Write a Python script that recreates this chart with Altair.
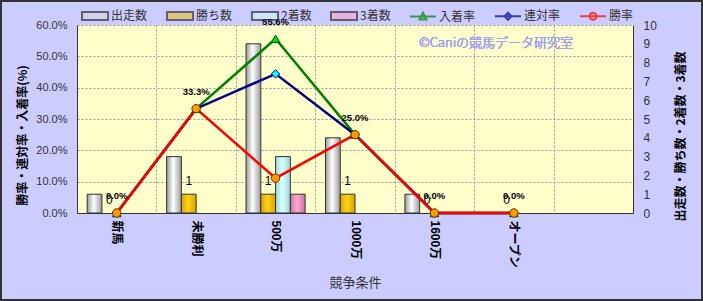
import altair as alt
import pandas as pd

# ---- data ----
categories = ["新馬", "未勝利", "500万", "1000万", "1600万", "オープン"]
x_domain = categories + [""]
runs = [1, 3, 9, 4, 1, 0]
wins = [0, 1, 1, 1, 0, 0]
seconds = [0, 0, 3, 0, 0, 0]
thirds = [0, 0, 1, 0, 0, 0]
place_rate = [0.0, 0.333, 0.556, 0.25, 0.0, 0.0]
quinella_rate = [0.0, 0.333, 0.444, 0.25, 0.0, 0.0]
win_rate = [0.0, 0.333, 0.111, 0.25, 0.0, 0.0]

bar_series = ["出走数", "勝ち数", "2着数", "3着数"]
line_series = ["入着率", "連対率", "勝率"]
legend_order = bar_series + line_series
watermark = "©Caniの競馬データ研究室"

bar_df = pd.DataFrame(
    [{"条件": c, "系列": s, "値": v}
     for s, vals in zip(bar_series, [runs, wins, seconds, thirds])
     for c, v in zip(categories, vals)]
)
rate_df = pd.DataFrame(
    [{"条件": c, "系列": s, "率": v}
     for s, vals in zip(line_series, [place_rate, quinella_rate, win_rate])
     for c, v in zip(categories, vals)]
)
legend_df = pd.DataFrame({"系列": legend_order, "条件": categories[0], "率": -1.0})

FONT = "Liberation Sans, Noto Sans CJK JP"
JFONT = "Noto Sans CJK JP"

x_enc = alt.X(
    "条件:N",
    scale=alt.Scale(domain=x_domain, paddingInner=0, paddingOuter=0),
    sort=x_domain,
    axis=alt.Axis(
        title="競争条件", labelAngle=90, labelFont=FONT, labelFontSize=12,
        labelFontWeight="bold", labelColor="#000000", labelPadding=7,
        ticks=False, tickBand="extent", grid=True, gridDash=[2, 2],
        gridColor="#999999", domainColor="#333333", titleFont=JFONT,
        titleFontSize=13, titleFontWeight="normal", titleColor="#333333",
        titlePadding=8,
    ),
)
xoff_enc = alt.XOffset(
    "系列:N", scale=alt.Scale(domain=bar_series, paddingInner=0, paddingOuter=0.69)
)
y_count = alt.Y(
    "値:Q",
    scale=alt.Scale(domain=[0, 10], nice=False),
    axis=alt.Axis(
        orient="right", values=list(range(11)), grid=False, ticks=False,
        labelPadding=10, labelFont=FONT, labelFontSize=12, labelColor="#333333",
        domainColor="#333333", title="出走数・勝ち数・2着数・3着数",
        titleAngle=270, titleFont=JFONT, titleFontSize=12, titleFontWeight="bold",
        titleColor="#000000", titleY=111, titlePadding=31,
    ),
)
y_rate = alt.Y(
    "率:Q",
    scale=alt.Scale(domain=[0, 0.6], nice=False),
    axis=alt.Axis(
        orient="left", values=[0, 0.1, 0.2, 0.3, 0.4, 0.5, 0.6], format=".1%",
        grid=True, gridDash=[2, 2], gridColor="#999999", ticks=False,
        labelPadding=10, labelFont=FONT, labelFontSize=11, labelColor="#333333",
        domainColor="#333333", title="勝率・連対率・入着率(%)",
        titleFont=JFONT, titleFontSize=12, titleFontWeight="bold",
        titleColor="#000000", titleY=110, titlePadding=6,
    ),
)


def grad(edge, mid):
    return alt.Gradient(
        gradient="linear", x1=0, x2=1, y1=0, y2=0,
        stops=[alt.GradientStop(color=edge, offset=0),
               alt.GradientStop(color=mid, offset=0.45),
               alt.GradientStop(color=edge, offset=1)],
    )


bar_fills = {
    "出走数": grad("#9a9a9a", "#ffffff"),
    "勝ち数": grad("#d9a400", "#ffd21a"),
    "2着数": grad("#9cd6d6", "#dcffff"),
    "3着数": grad("#d0709c", "#ffaad2"),
}

bar_layers = []
for s in bar_series:
    bar_layers.append(
        alt.Chart(bar_df)
        .transform_filter((alt.datum["系列"] == s) & (alt.datum["値"] > 0))
        .mark_bar(fill=bar_fills[s], stroke="#333333", strokeWidth=1)
        .encode(x=x_enc, xOffset=xoff_enc, y=y_count)
    )
count_text = (
    alt.Chart(bar_df).transform_filter(alt.datum["系列"] == "勝ち数")
    .mark_text(font=FONT, fontSize=12, color="#000000", baseline="alphabetic", dy=-9)
    .encode(x=x_enc, xOffset=xoff_enc, y=y_count, text=alt.Text("値:Q"))
)
bars = alt.layer(*bar_layers, count_text)

line_colors = {"入着率": "#008000", "連対率": "#000080", "勝率": "#ff0000"}
marker = {
    "入着率": dict(shape="triangle-up", fill="#00dd00", stroke="#005500", size=75),
    "連対率": dict(shape="diamond", fill="#00ffff", stroke="#000080", size=70),
    "勝率": dict(shape="circle", fill="#ff9900", stroke="#663300", size=70),
}

line_layers = []
for s in line_series:
    line_layers.append(
        alt.Chart(rate_df).transform_filter(alt.datum["系列"] == s)
        .mark_line(color=line_colors[s], strokeWidth=2.5)
        .encode(x=x_enc, y=y_rate)
    )
point_layers = []
for s in line_series:
    m = marker[s]
    point_layers.append(
        alt.Chart(rate_df).transform_filter(alt.datum["系列"] == s)
        .mark_point(shape=m["shape"], filled=True, fill=m["fill"], stroke=m["stroke"],
                    strokeWidth=1, size=m["size"], opacity=1)
        .encode(x=x_enc, y=y_rate)
    )
pct_text = (
    alt.Chart(rate_df).transform_filter(alt.datum["系列"] == "入着率")
    .mark_text(font="Liberation Sans", fontSize=9.5, fontWeight="bold",
               color="#000000", baseline="alphabetic", dy=-14)
    .encode(x=x_enc, y=y_rate, text=alt.Text("率:Q", format=".1%"))
)

# legend symbols (custom paths: bar box, line + marker)
legend_shapes = [
    "M-1.86,-0.57H1.86V0.57H-1.86Z",
    "M-1.86,-0.57H1.86V0.57H-1.86Z",
    "M-1.86,-0.57H1.86V0.57H-1.86Z",
    "M-1.86,-0.57H1.86V0.57H-1.86Z",
    "M-1.86,0H1.86M0,-0.55L0.5,0.4H-0.5Z",
    "M-1.86,0H1.86M0,-0.5L0.5,0L0,0.5L-0.5,0Z",
    "M-1.86,0H1.86M-0.5,0A0.5,0.5,0,1,0,0.5,0A0.5,0.5,0,1,0,-0.5,0Z",
]
legend_fill = ["#d8d8d8", "#f2c200", "#ccffff", "#ff99cc", "#00dd00", "#00ffff", "#ff9900"]
legend_stroke = ["#333333", "#333333", "#333333", "#333333", "#008000", "#000080", "#ff0000"]
leg = alt.Legend(
    orient="none", legendX=10, legendY=-17, direction="horizontal", title=None,
    symbolSize=196, symbolStrokeWidth=2, labelFont=JFONT, labelFontSize=12,
    labelColor="#333333", labelOffset=8, columnPadding=14,
)
legend_layer = (
    alt.Chart(legend_df)
    .mark_point(filled=True, clip=True, size=10)
    .encode(
        x=x_enc, y=y_rate,
        shape=alt.Shape("系列:N", scale=alt.Scale(domain=legend_order, range=legend_shapes), legend=leg),
        fill=alt.Fill("系列:N", scale=alt.Scale(domain=legend_order, range=legend_fill), legend=leg),
        stroke=alt.Stroke("系列:N", scale=alt.Scale(domain=legend_order, range=legend_stroke), legend=leg),
    )
)

wm = alt.Chart(legend_df).mark_text(
    font=JFONT, fontSize=13, fontWeight=300, color="#a3a3f2", align="center", baseline="middle"
).encode(x=alt.value(419), y=alt.value(18), text=alt.value(watermark))

frame = alt.Chart(legend_df).mark_rect(
    fill="transparent", stroke="#333333", strokeWidth=2
).encode(x=alt.value(-76), x2=alt.value(625), y=alt.value(-24), y2=alt.value(275))

rates = alt.layer(*line_layers, *point_layers, pct_text, legend_layer, wm, frame)

chart = (
    alt.layer(bars, rates)
    .resolve_scale(y="independent")
    .properties(
        width=556, height=188,
        autosize=alt.AutoSizeParams(type="none"),
        padding={"left": 77, "top": 25, "right": 70, "bottom": 88},
        background="#ccccff",
    )
    .configure_view(fill="#ffffcc", stroke=None)
)

chart.save("out.html", embed_options={"renderer": "svg", "actions": False})
